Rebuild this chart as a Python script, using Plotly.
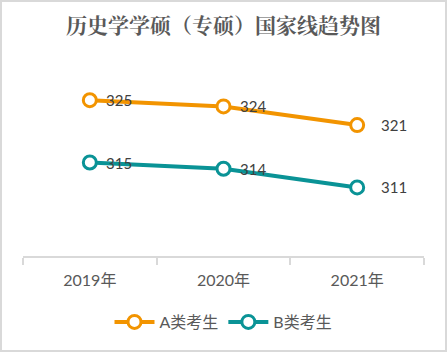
import plotly.graph_objects as go

years = ["2019年", "2020年", "2021年"]
series_a = [325, 324, 321]
series_b = [315, 314, 311]
name_a = "A类考生"
name_b = "B类考生"
title = "历史学学硕（专硕）国家线趋势图"

orange = "#F29400"
teal = "#0A9396"
txt = "#595959"
font_fam = "Lato, 'Noto Sans CJK SC', sans-serif"

fig = go.Figure()
for name, vals, col in [(name_a, series_a, orange), (name_b, series_b, teal)]:
    fig.add_trace(go.Scatter(
        x=years, y=vals, name=name, mode="lines+markers",
        line=dict(color=col, width=4),
        marker=dict(symbol="circle", size=13, color="white", line=dict(color=col, width=3)),
    ))
    for i, (xv, yv) in enumerate(zip(years, vals)):
        fig.add_annotation(x=xv, y=yv, text=str(yv), showarrow=False,
                           xanchor="left", yanchor="middle",
                           xshift=14 if i < len(vals) - 1 else 22, yshift=0,
                           font=dict(family=font_fam, size=15, color="#404040"))

W, H = 447, 352
ml, mr, mt, mb = 23, 23, 69, 96
pw, ph = W - ml - mr, H - mt - mb

fig.update_layout(
    width=W, height=H,
    margin=dict(l=ml, r=mr, t=mt, b=mb),
    paper_bgcolor="white", plot_bgcolor="white",
    title=dict(text="<b>" + title + "</b>", x=0.5, xanchor="center", y=1 - 26 / H, yanchor="middle",
               font=dict(family="'Noto Serif CJK SC', 'Noto Sans CJK SC', serif", size=21, color=txt)),
    xaxis=dict(type="category", range=[-0.5, 2.5], showline=True, linecolor="#d9d9d9", linewidth=2,
               ticks="outside", tickson="boundaries", ticklen=7, tickwidth=2, tickcolor="#d9d9d9",
               ticklabelstandoff=9,
               showgrid=False, tickfont=dict(family=font_fam, size=16, color=txt)),
    yaxis=dict(range=[300, 330], visible=False, showgrid=False),
    showlegend=True,
    legend=dict(orientation="h", x=0.5, xanchor="center", y=-(322 - (mt + ph)) / ph, yanchor="middle",
                font=dict(family=font_fam, size=16, color=txt), itemwidth=40),
    shapes=[dict(type="rect", xref="paper", yref="paper",
                 x0=-(ml - 1) / pw, x1=1 + (mr - 1) / pw,
                 y0=-(mb - 1) / ph, y1=1 + (mt - 1) / ph,
                 line=dict(color="#d9d9d9", width=2))],
)

fig.write_html("out.html")
